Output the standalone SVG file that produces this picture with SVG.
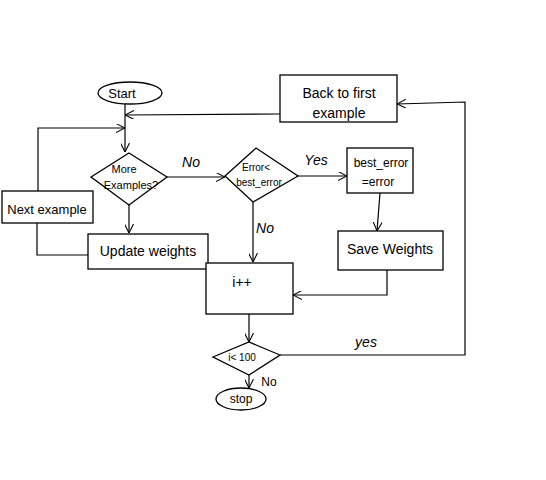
<svg xmlns="http://www.w3.org/2000/svg" width="546" height="480" viewBox="0 0 546 480">
<defs>
<marker id="arr" viewBox="0 0 10 10" refX="10" refY="5" markerWidth="9" markerHeight="9" markerUnits="userSpaceOnUse" orient="auto">
<path d="M0,0 L10,5 L0,10" fill="none" stroke="#000" stroke-width="1.2"/>
</marker>
</defs>
<style>
.s{fill:#fff;stroke:#000;stroke-width:1.3}
.c{fill:none;stroke:#000;stroke-width:1.2}
text{font-family:"Liberation Sans",Arial,sans-serif;fill:#000;text-anchor:middle;dominant-baseline:central}
</style>
<rect width="546" height="480" fill="#fff"/>
<g id="connectors">
<path class="c" d="M125,103 V152" marker-end="url(#arr)"/>
<path class="c" d="M280,114 L125,115" marker-end="url(#arr)"/>
<path class="c" d="M38,191 V128 H125" marker-end="url(#arr)"/>
<path class="c" d="M88,255 H37 V223"/>
<path class="c" d="M129,205 V233" marker-end="url(#arr)"/>
<path class="c" d="M167,177 H225" marker-end="url(#arr)"/>
<path class="c" d="M298,176 H347" marker-end="url(#arr)"/>
<path class="c" d="M380,193 L377,231" marker-end="url(#arr)"/>
<path class="c" d="M253,202 V262" marker-end="url(#arr)"/>
<path class="c" d="M387,270 V295 H293" marker-end="url(#arr)"/>
<path class="c" d="M249,314 V342" marker-end="url(#arr)"/>
<path class="c" d="M249,375 V388" marker-end="url(#arr)"/>
<path class="c" d="M280,355 H465 V102 L397,104" marker-end="url(#arr)"/>
<text x="191" y="162" font-size="14" font-style="italic">No</text>
<text x="316" y="160" font-size="14" font-style="italic">Yes</text>
<text x="265" y="228" font-size="14" font-style="italic">No</text>
<text x="366" y="342" font-size="14" font-style="italic">yes</text>
<text x="269" y="382" font-size="12">No</text>
</g>
<g id="start">
<ellipse class="s" cx="130" cy="93" rx="32" ry="11"/>
<text x="122" y="93" font-size="13">Start</text>
</g>
<g id="back">
<rect class="s" x="280" y="75" width="117" height="47"/>
<text x="339" y="93" font-size="14">Back to first</text>
<text x="339" y="113" font-size="14">example</text>
</g>
<g id="more">
<polygon class="s" points="91,177 129,153 167,177 129,205"/>
<text x="124" y="169" font-size="11">More</text>
<text x="131" y="185" font-size="11">Examples?</text>
</g>
<g id="next">
<rect class="s" x="2" y="191" width="91" height="32"/>
<text x="47" y="209" font-size="13">Next example</text>
</g>
<g id="update">
<rect class="s" x="88" y="234" width="120" height="35"/>
<text x="148" y="251" font-size="14">Update weights</text>
</g>
<g id="errcmp">
<polygon class="s" points="225,176 256,148 298,176 253,202"/>
<text x="256" y="167" font-size="10">Error&lt;</text>
<text x="259" y="182" font-size="10">best_error</text>
</g>
<g id="besterr">
<rect class="s" x="347" y="148" width="66" height="45"/>
<text x="381" y="163" font-size="12">best_error</text>
<text x="378" y="182" font-size="12">=error</text>
</g>
<g id="save">
<rect class="s" x="338" y="231" width="105" height="39"/>
<text x="390" y="249" font-size="14">Save Weights</text>
</g>
<g id="inc">
<rect class="s" x="206" y="263" width="87" height="51"/>
<text x="242" y="282" font-size="14">i++</text>
</g>
<g id="cmp">
<polygon class="s" points="213,357 249,342 280,355 249,375"/>
<text x="242" y="357" font-size="10">i&lt; 100</text>
</g>
<g id="stop">
<ellipse class="s" cx="241" cy="399" rx="25" ry="11"/>
<text x="241" y="399" font-size="12">stop</text>
</g>
</svg>
